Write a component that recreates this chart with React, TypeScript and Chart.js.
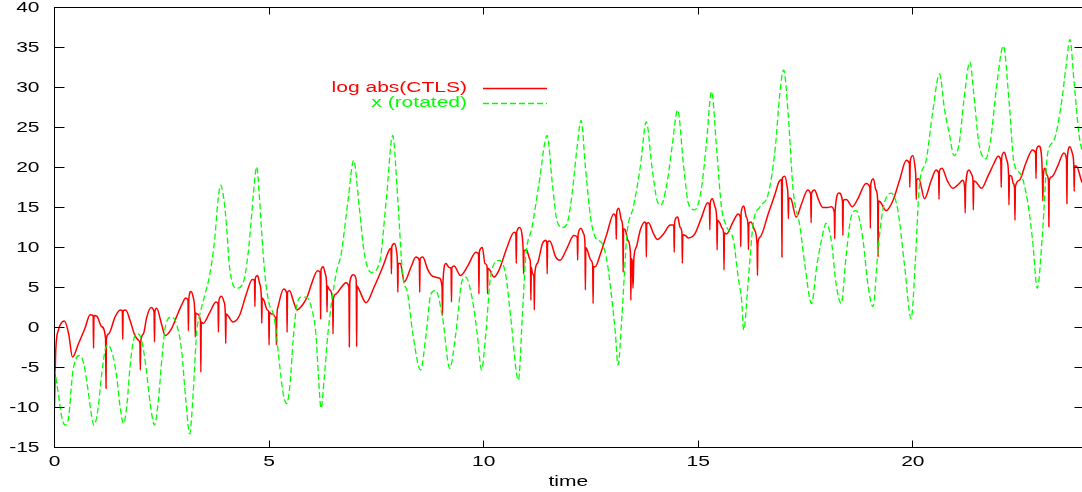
import React, { useEffect, useRef } from 'react';
import { Chart, registerables } from 'chart.js';

Chart.register(...registerables);

// ---- data -------------------------------------------------------------
const xTickValues = [0, 5, 10, 15, 20];
const yTickValues = [-15, -10, -5, 0, 5, 10, 15, 20, 25, 30, 35, 40];
const xAxisTitle = 'time';
const seriesLabels = ['log abs(CTLS)', 'x (rotated)'];
const seriesColors = ['#ff0000', '#00ff00'];

// [time, log abs(CTLS)]
const ctlsPoints: [number, number][] = [
  [0, -9.9], [0.03, -2.8], [0.09, -0.35], [0.23, 0.8], [0.33, -0.8], [0.42, -3.7], [0.56, -2.0], [0.71, -0.1], [0.83, 1.6],
  [0.90, 1.5], [0.91, -2.6], [0.92, 1.5], [0.99, 1.4], [1.10, 0.1],
  [1.19, -1.4], [1.20, -7.6], [1.21, -1.4], [1.26, -0.8], [1.41, 1.3], [1.53, 2.2],
  [1.58, 2.1], [1.59, -1.5], [1.60, 2.1], [1.66, 2.2], [1.76, 0.9], [1.86, -0.8], [1.96, -1.6],
  [1.99, -2.0], [2.00, -5.3], [2.01, -1.8], [2.07, -0.8], [2.15, 1.3], [2.25, 2.5],
  [2.32, 1.9], [2.33, -1.8], [2.34, 2.0], [2.38, 2.4], [2.50, 0.3], [2.58, -1.0], [2.73, -0.1], [2.84, 1.3], [2.96, 2.8], [3.06, 3.7],
  [3.11, 3.4], [3.12, -0.4], [3.13, 3.6], [3.18, 4.5], [3.23, 3.8],
  [3.27, 1.8], [3.28, -1.2], [3.29, 1.8], [3.33, 1.7],
  [3.40, 0.9], [3.41, -5.6], [3.42, 0.7], [3.46, 0.5], [3.62, 1.9], [3.76, 3.2],
  [3.81, 3.0], [3.82, -0.6], [3.83, 3.3], [3.89, 3.9], [3.95, 3.2],
  [3.98, 1.8], [3.99, -2.0], [4.00, 1.7], [4.04, 1.5], [4.16, 0.7], [4.31, 1.5], [4.47, 4.2], [4.61, 6.0],
  [4.66, 5.9], [4.67, 2.6], [4.68, 6.2], [4.73, 6.5], [4.78, 5.5],
  [4.82, 3.8], [4.83, 0.5], [4.84, 3.7], [4.88, 3.4], [4.96, 2.2],
  [4.99, 2.0], [5.00, -2.2], [5.01, 1.9], [5.05, 1.7], [5.09, 1.7], [5.14, 1.3],
  [5.16, 1.0], [5.17, -2.2], [5.18, 1.2], [5.21, 2.6], [5.34, 4.8],
  [5.41, 4.3], [5.42, -0.6], [5.43, 4.4], [5.48, 4.6], [5.56, 3.4], [5.65, 2.2], [5.79, 2.9], [5.90, 4.0], [5.98, 5.3], [6.13, 7.1],
  [6.19, 6.9], [6.20, 1.1], [6.21, 7.2], [6.26, 7.6], [6.31, 6.7],
  [6.34, 5.4], [6.35, 1.9], [6.36, 5.2], [6.41, 4.7],
  [6.48, 3.5], [6.49, -0.8], [6.50, 3.6], [6.56, 4.2], [6.68, 5.0], [6.79, 5.6],
  [6.86, 5.1], [6.87, -2.4], [6.88, 5.6], [6.97, 6.6],
  [7.03, 5.9], [7.04, -2.4], [7.05, 5.2], [7.10, 4.7], [7.26, 3.1], [7.45, 5.1], [7.65, 7.6], [7.80, 9.7],
  [7.84, 9.9], [7.85, 6.7], [7.86, 10.1], [7.92, 10.5], [7.97, 9.5],
  [7.99, 8.0], [8.00, 4.4], [8.01, 8.0], [8.06, 8.0], [8.15, 5.7], [8.31, 7.6], [8.42, 8.8],
  [8.50, 8.4], [8.51, 4.4], [8.52, 8.6], [8.58, 8.8], [8.70, 7.2], [8.81, 6.4], [8.96, 6.2],
  [9.03, 5.1], [9.04, 1.5], [9.05, 5.5], [9.12, 8.0], [9.20, 7.5],
  [9.24, 7.3], [9.25, 3.2], [9.26, 7.5], [9.31, 7.7], [9.46, 6.5], [9.62, 7.6], [9.82, 9.4],
  [9.88, 9.2], [9.89, 4.2], [9.90, 9.5], [9.97, 10.0], [10.03, 8.0],
  [10.08, 7.6], [10.09, 4.2], [10.10, 7.4], [10.14, 7.2], [10.24, 6.3], [10.36, 7.2], [10.55, 10.1], [10.71, 11.9],
  [10.75, 11.7], [10.76, 8.0], [10.77, 11.9], [10.84, 12.5], [10.90, 11.3],
  [10.92, 9.6], [10.93, 6.7], [10.94, 9.6], [11.00, 9.7], [11.07, 8.6],
  [11.09, 8.0], [11.10, 3.4], [11.11, 7.5], [11.14, 6.7],
  [11.17, 6.4], [11.18, 2.2], [11.19, 6.6], [11.25, 8.0], [11.37, 10.5], [11.45, 10.9],
  [11.47, 10.6], [11.48, 6.7], [11.49, 10.7], [11.54, 10.8], [11.68, 8.8], [11.78, 8.4], [11.94, 9.9], [12.10, 11.5],
  [12.18, 11.3], [12.19, 8.4], [12.20, 11.6], [12.27, 12.4], [12.33, 11.7],
  [12.36, 10.5], [12.37, 4.7], [12.38, 10.0], [12.42, 9.6], [12.50, 8.4],
  [12.54, 7.8], [12.55, 3.0], [12.56, 7.6], [12.60, 7.6], [12.72, 9.2], [12.87, 11.7], [13.03, 14.2],
  [13.08, 13.8], [13.09, 11.0], [13.10, 14.4], [13.15, 14.9], [13.21, 13.4],
  [13.24, 12.5], [13.25, 6.9], [13.26, 12.3], [13.30, 12.2], [13.36, 10.9],
  [13.42, 9.3], [13.43, 3.4], [13.44, 8.6], [13.46, 8.4], [13.48, 4.9], [13.50, 8.6], [13.56, 10.1], [13.65, 12.2], [13.75, 13.2],
  [13.78, 13.0], [13.79, 8.8], [13.80, 13.0], [13.84, 13.1], [13.96, 11.7], [14.05, 11.0], [14.19, 11.7], [14.35, 12.8],
  [14.43, 12.8], [14.44, 9.4], [14.45, 13.2], [14.52, 13.8], [14.58, 12.5],
  [14.62, 11.8], [14.63, 8.0], [14.64, 11.6], [14.70, 11.5], [14.77, 11.2], [14.92, 11.7], [15.08, 13.8], [15.22, 15.6],
  [15.26, 15.3], [15.27, 12.2], [15.28, 15.6], [15.33, 16.1], [15.39, 15.1],
  [15.43, 13.6], [15.44, 9.7], [15.45, 13.4], [15.50, 13.1], [15.56, 12.4],
  [15.59, 11.8], [15.60, 7.2], [15.61, 11.8], [15.66, 11.7], [15.81, 13.2], [15.93, 14.2],
  [15.98, 13.8], [15.99, 10.1], [16.00, 14.4], [16.06, 15.2], [16.12, 13.8],
  [16.16, 12.8], [16.17, 9.7], [16.18, 13.0], [16.23, 13.2], [16.31, 12.2],
  [16.37, 10.3], [16.38, 6.5], [16.39, 10.5], [16.44, 11.3], [16.63, 14.2], [16.79, 16.7], [16.88, 18.2],
  [16.94, 18.5], [16.95, 8.8], [16.96, 18.7], [17.02, 18.9], [17.07, 17.6],
  [17.09, 16.5], [17.10, 13.6], [17.11, 16.2], [17.16, 16.1], [17.28, 13.8], [17.41, 15.5], [17.55, 17.2],
  [17.62, 16.6], [17.63, 13.1], [17.64, 16.8], [17.71, 17.2], [17.80, 16.0], [17.90, 15.0], [18.02, 15.0], [18.10, 15.1],
  [18.17, 14.4], [18.18, 11.1], [18.19, 14.6], [18.28, 16.8],
  [18.36, 15.8], [18.37, 11.5], [18.38, 15.9], [18.45, 16.0], [18.59, 15.1], [18.72, 16.1], [18.91, 18.0],
  [19.00, 17.5], [19.01, 12.4], [19.02, 17.9], [19.08, 18.6], [19.14, 17.2],
  [19.18, 16.0], [19.19, 8.8], [19.20, 15.8], [19.24, 15.7], [19.38, 14.6], [19.54, 15.9], [19.69, 18.4], [19.85, 20.9],
  [19.92, 20.5], [19.93, 17.5], [19.94, 20.8], [20.00, 21.5], [20.05, 20.1],
  [20.07, 18.7], [20.08, 16.0], [20.09, 18.5], [20.14, 18.6], [20.27, 16.1], [20.43, 18.4], [20.54, 19.7],
  [20.60, 19.3], [20.61, 16.0], [20.62, 19.6], [20.68, 19.9], [20.80, 18.4], [20.93, 17.4], [21.08, 18.0], [21.16, 18.4],
  [21.21, 17.3], [21.22, 14.3], [21.23, 17.6], [21.31, 19.7], [21.38, 19.0],
  [21.40, 18.4], [21.41, 14.7], [21.42, 18.3], [21.47, 18.2], [21.60, 17.4], [21.74, 18.8], [21.89, 20.5], [21.99, 21.4],
  [22.05, 20.8], [22.06, 17.5], [22.07, 21.2], [22.13, 21.9], [22.19, 20.9],
  [22.23, 19.2], [22.24, 15.3], [22.25, 19.0], [22.30, 18.9], [22.34, 18.0],
  [22.37, 17.4], [22.38, 13.4], [22.39, 17.6], [22.48, 18.4], [22.63, 20.5], [22.79, 22.2],
  [22.86, 21.8], [22.87, 18.6], [22.88, 22.2], [22.94, 22.7], [23.00, 21.3],
  [23.02, 18.6], [23.03, 15.8], [23.04, 18.9], [23.08, 19.9], [23.13, 19.0],
  [23.16, 18.3], [23.17, 12.6], [23.18, 18.4], [23.23, 18.8], [23.37, 20.1], [23.52, 21.8],
  [23.58, 21.0], [23.59, 15.5], [23.60, 21.2], [23.66, 22.6], [23.72, 21.7],
  [23.75, 20.3], [23.76, 17.0], [23.77, 20.2], [23.81, 20.2], [23.94, 18.2], [24.0, 17.8],
];

// [time, x (rotated)]
const rotatedPoints: [number, number][] = [
  [0, -5.1], [0.09, -8.3], [0.17, -11.2], [0.25, -12.2], [0.33, -11.2], [0.42, -5.8], [0.50, -3.9], [0.57, -3.5],
  [0.68, -4.5], [0.78, -7.8], [0.87, -11.2], [0.92, -12.2], [1.01, -10.3], [1.10, -5.8], [1.18, -2.8], [1.24, -2.2],
  [1.35, -3.3], [1.45, -6.2], [1.53, -10.0], [1.61, -12.0], [1.69, -9.5], [1.76, -4.9], [1.84, -1.6], [1.94, -0.8],
  [2.03, -1.6], [2.13, -4.9], [2.23, -9.5], [2.33, -12.2], [2.42, -9.1], [2.52, -2.8], [2.59, 0.3], [2.73, 1.3],
  [2.85, 0.3], [2.96, -2.8], [3.06, -9.1], [3.15, -13.3], [3.23, -8.3], [3.31, -0.8], [3.39, 1.7], [3.51, 4.2],
  [3.62, 6.7], [3.73, 10.9], [3.81, 15.9], [3.87, 17.8], [3.95, 15.9], [4.01, 12.6], [4.07, 8.0], [4.15, 5.5],
  [4.24, 4.9], [4.39, 5.5], [4.51, 9.2], [4.59, 13.8], [4.65, 17.6], [4.71, 20.1], [4.77, 16.7], [4.83, 11.7],
  [4.90, 6.7], [5.00, 3.0], [5.11, 1.5], [5.17, -0.8], [5.25, -4.9], [5.33, -8.3], [5.41, -9.5], [5.49, -7.0],
  [5.56, -1.6], [5.64, 2.6], [5.75, 3.8], [5.87, 3.8], [5.98, 2.6], [6.09, -0.8], [6.15, -6.0], [6.21, -10.1],
  [6.29, -6.0], [6.37, -0.8], [6.56, 6.7], [6.68, 9.2], [6.84, 15.9], [6.97, 20.9], [7.10, 15.1], [7.22, 9.2],
  [7.38, 6.9], [7.57, 8.0], [7.73, 15.9], [7.88, 24.0], [8.00, 15.9], [8.11, 6.7], [8.23, 4.2], [8.35, -0.8],
  [8.53, -5.3], [8.66, -0.8], [8.77, 4.2], [8.88, 4.6], [9.04, 1.3], [9.21, -5.1], [9.35, -0.8], [9.50, 5.9],
  [9.58, 6.3], [9.74, 3.4], [9.85, -0.8], [9.95, -5.3], [10.05, -0.8], [10.16, 6.3], [10.36, 8.4], [10.51, 6.7],
  [10.63, 1.3], [10.81, -6.6], [10.90, 1.3], [10.98, 8.8], [11.13, 12.6], [11.29, 18.0], [11.48, 24.0], [11.60, 18.0],
  [11.71, 13.3], [11.85, 12.5], [11.97, 13.5], [12.06, 16.7], [12.17, 22.2], [12.27, 25.9], [12.37, 20.1], [12.49, 13.8],
  [12.60, 11.3], [12.76, 10.5], [12.87, 8.4], [12.99, 3.4], [13.07, -0.8], [13.13, -4.7], [13.22, 1.3], [13.34, 11.7],
  [13.49, 15.1], [13.65, 20.1], [13.79, 25.7], [13.92, 20.1], [14.04, 15.9], [14.13, 15.3], [14.27, 18.0], [14.39, 22.6],
  [14.52, 27.2], [14.66, 20.1], [14.77, 15.5], [14.92, 14.7], [15.08, 17.6], [15.19, 23.0], [15.31, 29.5], [15.43, 22.2],
  [15.54, 15.1], [15.66, 12.6], [15.82, 10.9], [15.93, 6.3], [16.01, 3.4], [16.06, -0.3], [16.16, 5.5], [16.28, 13.0],
  [16.44, 15.1], [16.63, 16.7], [16.79, 22.2], [16.90, 29.2], [16.99, 32.2], [17.10, 26.3], [17.21, 17.2], [17.37, 12.6],
  [17.49, 7.6], [17.64, 3.0], [17.76, 7.6], [17.87, 10.9], [17.98, 13.0], [18.10, 10.9], [18.21, 5.5], [18.33, 3.0],
  [18.45, 9.2], [18.56, 13.8], [18.68, 14.6], [18.84, 10.9], [18.95, 5.5], [19.07, 2.6], [19.19, 9.7], [19.30, 14.7],
  [19.50, 16.8], [19.65, 14.7], [19.81, 7.6], [19.96, 1.1], [20.06, 8.4], [20.15, 17.6], [20.31, 20.9], [20.47, 27.2],
  [20.62, 31.7], [20.74, 27.2], [20.85, 24.2], [20.96, 21.5], [21.08, 23.0], [21.19, 28.4], [21.33, 33.2], [21.42, 29.2],
  [21.54, 23.0], [21.70, 21.1], [21.81, 23.4], [21.96, 30.5], [22.11, 35.2], [22.24, 28.4], [22.36, 20.5], [22.51, 19.2],
  [22.67, 15.9], [22.79, 10.9], [22.90, 4.9], [23.02, 11.7], [23.14, 21.7], [23.29, 23.4], [23.45, 27.6], [23.57, 32.6],
  [23.66, 36.0], [23.76, 30.5], [23.87, 24.2], [23.94, 22.2], [24.0, 21.5],
];

// ---- drawing helpers --------------------------------------------------
const TEXT_FONT = '14px "Liberation Sans", Arial, sans-serif';
const TEXT_STRETCH = 1.5;

function drawText(ctx: CanvasRenderingContext2D, text: string, x: number, y: number, align: CanvasTextAlign, color: string) {
  ctx.save();
  ctx.translate(x, y);
  ctx.scale(TEXT_STRETCH, 1);
  ctx.font = TEXT_FONT;
  ctx.fillStyle = color;
  ctx.textAlign = align;
  ctx.textBaseline = 'middle';
  ctx.fillText(text, 0, 0);
  ctx.restore();
}

const gnuplotFrame = {
  id: 'gnuplotFrame',
  afterDraw(chart: any) {
    const { ctx, chartArea: a, scales } = chart;
    const xs = scales.x;
    const ys = scales.y;
    ctx.save();
    ctx.strokeStyle = '#000000';
    ctx.lineWidth = 1;
    ctx.strokeRect(a.left, a.top, a.right - a.left, a.bottom - a.top);
    ctx.beginPath();
    for (const v of yTickValues) {
      const y = Math.floor(ys.getPixelForValue(v)) + 0.5;
      ctx.moveTo(a.left, y);
      ctx.lineTo(a.left + 10, y);
      ctx.moveTo(a.right - 10, y);
      ctx.lineTo(a.right, y);
    }
    for (const v of xTickValues) {
      const x = Math.floor(xs.getPixelForValue(v)) + 0.5;
      ctx.moveTo(x, a.bottom);
      ctx.lineTo(x, a.bottom - 7);
      ctx.moveTo(x, a.top);
      ctx.lineTo(x, a.top + 7);
    }
    ctx.stroke();
    ctx.restore();

    for (const v of yTickValues) {
      drawText(ctx, String(v), a.left - 15, ys.getPixelForValue(v) + 1, 'right', '#000000');
    }
    for (const v of xTickValues) {
      drawText(ctx, String(v), xs.getPixelForValue(v), a.bottom + 15, 'center', '#000000');
    }
    drawText(ctx, xAxisTitle, (a.left + 1082) / 2, a.bottom + 35, 'center', '#000000');

    // key (legend)
    chart.data.datasets.forEach((ds: any, i: number) => {
      const y = 88.5 + i * 15;
      drawText(ctx, ds.label, 467, y, 'right', ds.borderColor);
      ctx.save();
      ctx.strokeStyle = ds.borderColor;
      ctx.lineWidth = 1.3;
      ctx.setLineDash(ds.borderDash || []);
      ctx.beginPath();
      ctx.moveTo(483, y);
      ctx.lineTo(547, y);
      ctx.stroke();
      ctx.restore();
    });
  },
};

export default function App() {
  const canvasRef = useRef<HTMLCanvasElement | null>(null);

  useEffect(() => {
    const canvas = canvasRef.current;
    if (!canvas) return;
    const chart = new Chart(canvas, {
      type: 'line',
      data: {
        datasets: [
          {
            label: seriesLabels[0],
            data: ctlsPoints.map(([x, y]) => ({ x, y })),
            borderColor: seriesColors[0],
            borderWidth: 1.5,
            pointRadius: 0,
            fill: false,
            cubicInterpolationMode: 'monotone',
            order: 1,
          },
          {
            label: seriesLabels[1],
            data: rotatedPoints.map(([x, y]) => ({ x, y })),
            borderColor: seriesColors[1],
            borderWidth: 1.3,
            borderDash: [6, 3],
            pointRadius: 0,
            fill: false,
            cubicInterpolationMode: 'monotone',
            order: 0,
          },
        ],
      },
      options: {
        responsive: false,
        maintainAspectRatio: false,
        animation: false,
        devicePixelRatio: 1,
        layout: { padding: { left: 54.5, right: 5.5, top: 7.5, bottom: 44.5 } },
        plugins: { legend: { display: false }, tooltip: { enabled: false } },
        events: [],
        scales: {
          x: { type: 'linear', display: false, min: 0, max: 24, ticks: { stepSize: 5, includeBounds: false } },
          y: { type: 'linear', display: false, min: -15, max: 40, ticks: { stepSize: 5 } },
        },
      },
      plugins: [gnuplotFrame],
    } as any);
    return () => chart.destroy();
  }, []);

  return (
    <div style={{ position: 'absolute', left: 0, top: 0, width: 1082, height: 492, overflow: 'hidden', background: '#ffffff' }}>
      <canvas ref={canvasRef} width={1090} height={492} style={{ display: 'block', width: 1090, height: 492 }} />
    </div>
  );
}
